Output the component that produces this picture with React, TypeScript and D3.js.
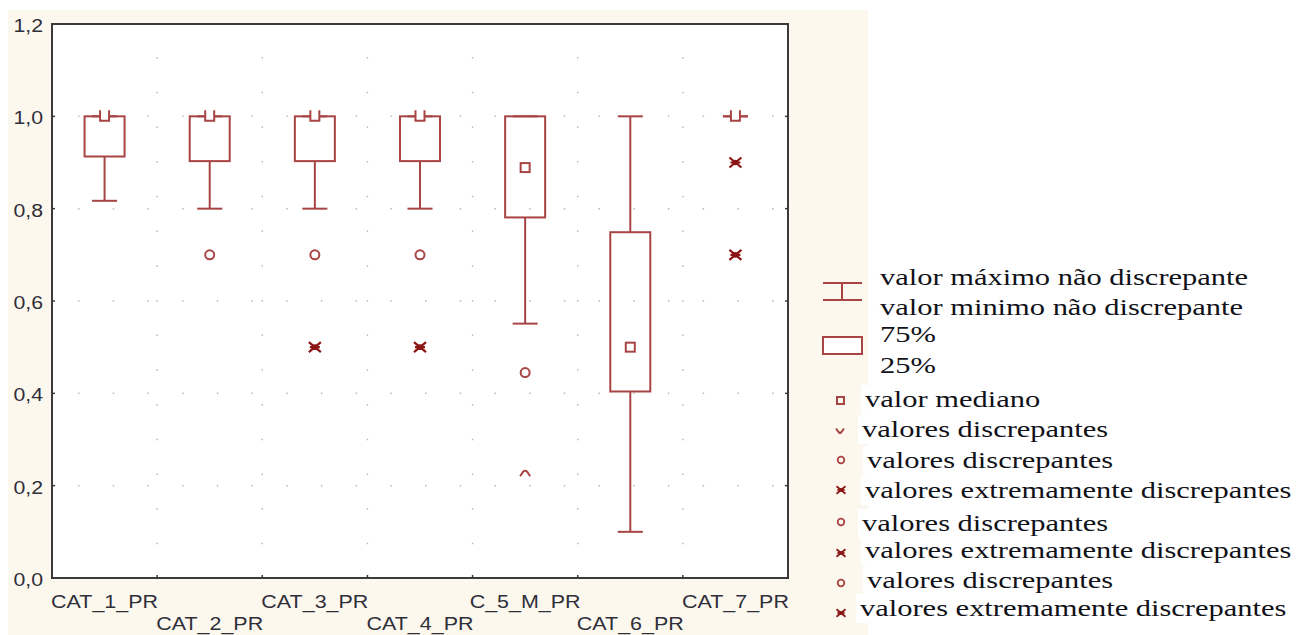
import React from "react";
import * as d3 from "d3";

const categories = ["CAT_1_PR", "CAT_2_PR", "CAT_3_PR", "CAT_4_PR", "C_5_M_PR", "CAT_6_PR", "CAT_7_PR"];
const whiskerLow = [0.817, 0.8, 0.8, 0.8, 0.551, 0.1, 1.0];
const q1 = [0.913, 0.903, 0.903, 0.903, 0.781, 0.404, 1.0];
const medians = [1.0, 1.0, 1.0, 1.0, 0.889, 0.5, 1.0];
const q3 = [1.0, 1.0, 1.0, 1.0, 1.0, 0.749, 1.0];
const whiskerHigh = [1.0, 1.0, 1.0, 1.0, 1.0, 1.0, 1.0];
const outliers = [
  { cat: "CAT_2_PR", value: 0.7 },
  { cat: "CAT_3_PR", value: 0.7 },
  { cat: "CAT_4_PR", value: 0.7 },
  { cat: "C_5_M_PR", value: 0.445 },
];
const lowOutliers = [{ cat: "C_5_M_PR", value: 0.227 }];
const extremes = [
  { cat: "CAT_3_PR", value: 0.5 },
  { cat: "CAT_4_PR", value: 0.5 },
  { cat: "CAT_7_PR", value: 0.9 },
  { cat: "CAT_7_PR", value: 0.7 },
];
const yTicks = [0, 0.2, 0.4, 0.6, 0.8, 1.0, 1.2];
const legendRows = [
  { label: "valor máximo não discrepante", sym: "whisker" },
  { label: "valor minimo não discrepante", sym: "none" },
  { label: "75%", sym: "box" },
  { label: "25%", sym: "none" },
  { label: "valor mediano", sym: "square" },
  { label: "valores discrepantes", sym: "caret" },
  { label: "valores discrepantes", sym: "circle" },
  { label: "valores extremamente discrepantes", sym: "star" },
  { label: "valores discrepantes", sym: "circle" },
  { label: "valores extremamente discrepantes", sym: "star" },
  { label: "valores discrepantes", sym: "circle" },
  { label: "valores extremamente discrepantes", sym: "star" },
];
const legendBaselines = [285, 315, 342, 373, 407, 437, 468, 498, 531, 558, 588, 616];
const legendSymbolY = [291, 291, 345, 345, 400.5, 431, 460, 490, 522, 553, 583, 613];
const legendTextX = [880, 880, 880, 880, 865, 862, 867, 865, 862, 865, 867, 860];

const LINE = "#a84444";
const DARK = "#8b1515";
const CREAM = "#fdf8ee";
const SANS = "'Liberation Sans', Arial, sans-serif";
const SERIF = "'Liberation Serif', 'Times New Roman', serif";

const fmt = (v: number) => v.toFixed(1).replace(".", ",");

function Star({ x, y, s = 1 }: { x: number; y: number; s?: number }) {
  return (
    <g transform={`translate(${x},${y}) scale(${s})`} stroke={DARK} strokeWidth={2.2} fill="none">
      <path d="M-6,-5L6,5M-6,5L6,-5M-5,0L5,0" />
      <circle r={2.8} fill={DARK} stroke="none" />
    </g>
  );
}

export default function App() {
  const L = 52, R = 788, T = 24, B = 578;
  const x = d3.scaleBand<string>().domain(categories).range([L, R]).padding(0);
  const y = d3.scaleLinear().domain([0, 1.2]).range([B, T]);
  const bw = 40;
  const cw = 25;
  const cx = (c: string) => (x(c) as number) + x.bandwidth() / 2;
  const boundaries = categories.slice(1).map((c) => x(c) as number);
  const gridY = yTicks.filter((t) => t > 0 && t < 1.2);

  return (
    <svg width={1299} height={635} style={{ position: "absolute", left: 0, top: 0 }}>
      <rect x={0} y={0} width={1299} height={635} fill="#ffffff" />
      <rect x={8} y={10} width={860} height={625} fill={CREAM} />
      <rect x={L} y={T} width={R - L} height={B - T} fill="#ffffff" />

      {/* grid dots */}
      {gridY.map((t) => (
        <line key={"h" + t} x1={L + 26} x2={R} y1={y(t)} y2={y(t)} stroke="#b8b8b8" strokeWidth={1.5} strokeDasharray="1.5 33.2" />
      ))}
      {boundaries.map((b) => (
        <line key={"v" + b} x1={b} x2={b} y1={T + 33} y2={B} stroke="#b8b8b8" strokeWidth={1.5} strokeDasharray="1.5 33.2" />
      ))}

      {/* boxes */}
      {categories.map((c, i) => {
        const X = cx(c);
        const yq1 = y(q1[i]);
        const yq3 = y(q3[i]);
        const ym = y(medians[i]);
        const s = 9;
        const atTop = Math.abs(medians[i] - q3[i]) < 1e-6;
        return (
          <g key={c} stroke={LINE} strokeWidth={2} fill="none">
            <line x1={X} x2={X} y1={y(whiskerHigh[i])} y2={yq3} />
            <line x1={X} x2={X} y1={yq1} y2={y(whiskerLow[i])} />
            <line x1={X - cw / 2} x2={X + cw / 2} y1={y(whiskerHigh[i])} y2={y(whiskerHigh[i])} />
            <line x1={X - cw / 2} x2={X + cw / 2} y1={y(whiskerLow[i])} y2={y(whiskerLow[i])} />
            <rect x={X - bw / 2} y={yq3} width={bw} height={Math.max(0, yq1 - yq3)} />
            <rect x={X - s / 2} y={ym - s / 2 - 2} width={s} height={s + 2} fill="#ffffff" stroke="none" />
            {atTop ? (
              <path d={`M${X - s / 2},${ym - s / 2 - 1.5}V${ym + s / 2}H${X + s / 2}V${ym - s / 2 - 1.5}`} />
            ) : (
              <rect x={X - s / 2} y={ym - s / 2} width={s} height={s} />
            )}
          </g>
        );
      })}

      {outliers.map((o, i) => (
        <circle key={"o" + i} cx={cx(o.cat)} cy={y(o.value)} r={4.5} fill="none" stroke={LINE} strokeWidth={2} />
      ))}
      {lowOutliers.map((o, i) => (
        <path key={"l" + i} transform={`translate(${cx(o.cat)},${y(o.value)})`} d="M-5,3L-2,-1.5Q0,-3.5 2,-1.5L5,3" fill="none" stroke={LINE} strokeWidth={2} />
      ))}
      {extremes.map((o, i) => (
        <Star key={"e" + i} x={cx(o.cat)} y={y(o.value)} />
      ))}

      {/* frame */}
      <rect x={L} y={T} width={R - L} height={B - T} fill="none" stroke="#3a3a3a" strokeWidth={2} />
      {yTicks.map((t) => (
        <g key={"t" + t}>
          <line x1={L} x2={L + 3} y1={y(t)} y2={y(t)} stroke="#3a3a3a" strokeWidth={1.5} />
          <line x1={R - 3} x2={R} y1={y(t)} y2={y(t)} stroke="#3a3a3a" strokeWidth={1.5} />
        </g>
      ))}
      {boundaries.map((b) => (
        <line key={"bt" + b} x1={b} x2={b} y1={B - 3} y2={B} stroke="#3a3a3a" strokeWidth={1.5} />
      ))}

      {/* y labels */}
      {yTicks.map((t) => (
        <text key={"yl" + t} transform={`translate(43,${y(t) + 8}) scale(1.12,1)`} textAnchor="end" fontFamily={SANS} fontSize={19} fill="#2f2f3a">
          {fmt(t)}
        </text>
      ))}

      {/* x labels */}
      {categories.map((c, i) => (
        <text key={"xl" + c} transform={`translate(${cx(c)},${i % 2 === 0 ? 608 : 630}) scale(1.13,1)`} textAnchor="middle" fontFamily={SANS} fontSize={19} fill="#2f2f3a">
          {c}
        </text>
      ))}

      {/* legend */}
      {legendRows.map((r, i) =>
        i >= 4 ? (
          <rect key={"wb" + i} x={legendTextX[i] - 4} y={legendBaselines[i] - 22} width={868 - legendTextX[i] + 4} height={29} fill="#ffffff" />
        ) : null
      )}
      {legendRows.map((r, i) => {
        const sx = 842;
        const sy = legendSymbolY[i];
        let sym: React.ReactNode = null;
        if (r.sym === "whisker") {
          sym = (
            <g stroke={LINE} strokeWidth={2}>
              <line x1={823} x2={862} y1={283} y2={283} />
              <line x1={823} x2={862} y1={300} y2={300} />
              <line x1={sx} x2={sx} y1={283} y2={300} />
            </g>
          );
        } else if (r.sym === "box") {
          sym = <rect x={823} y={337} width={39} height={17} fill="#ffffff" stroke={LINE} strokeWidth={2} />;
        } else if (r.sym === "square") {
          sym = <rect x={837} y={sy - 3.5} width={7} height={7} fill="none" stroke={LINE} strokeWidth={2} />;
        } else if (r.sym === "caret") {
          sym = <path transform={`translate(840,${sy})`} d="M-4,-2.5L-1,1.5Q0,2.5 1,1.5L4,-2.5" fill="none" stroke={LINE} strokeWidth={2} />;
        } else if (r.sym === "circle") {
          sym = <circle cx={841} cy={sy} r={3.3} fill="none" stroke={LINE} strokeWidth={1.8} />;
        } else if (r.sym === "star") {
          sym = <Star x={841} y={sy} s={0.75} />;
        }
        return (
          <g key={"lg" + i}>
            {sym}
            <text transform={`translate(${legendTextX[i]},${legendBaselines[i]}) scale(1.27,1)`} fontFamily={SERIF} fontSize={24} fill="#111118">
              {r.label}
            </text>
          </g>
        );
      })}
    </svg>
  );
}
